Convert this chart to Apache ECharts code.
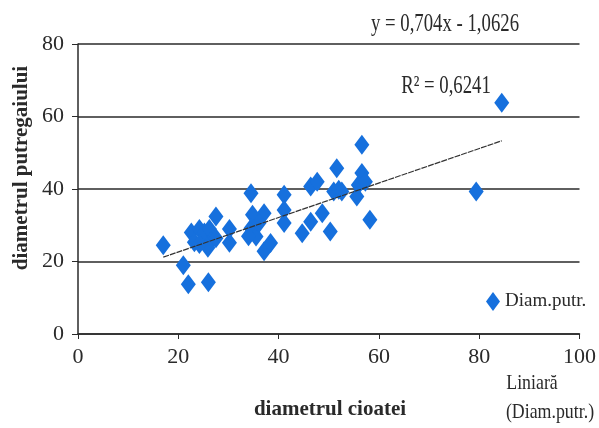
<!DOCTYPE html>
<html>
<head>
<meta charset="utf-8">
<script src="https://cdn.jsdelivr.net/npm/echarts@6/dist/echarts.min.js"></script>
<style>
html,body{margin:0;padding:0;background:#fff;}
#chart{width:599px;height:428px;}
</style>
</head>
<body>
<div id="chart"></div>
<script>
// diametrul cioatei (x) / diametrul putregaiului (y)
var diamCioata = [17, 21, 22, 26, 22.6, 23.2, 24.2, 25.2, 26.2, 26.5, 25.9, 27.5, 24.2, 27.5, 30.2, 30.2,
    34.5, 34.8, 37.1, 34.5, 35.5, 36.1, 37.1, 38.4, 34, 41.1, 41.1, 41.1, 46.4, 47.7, 51, 48.7,
    46.4, 44.7, 50.3, 56.6, 51.6, 56.6, 52, 52.6, 55.9, 55.6, 58.2, 57.3, 84.5, 79.4];
var diamPutr = [24.5, 19, 13.7, 14.3, 28, 25.3, 29, 28, 29, 25.5, 23.8, 26.4, 24.8, 32.4, 29, 25.2,
    38.8, 32.9, 33.3, 29.2, 26.9, 30.6, 22.8, 25.1, 27, 38.4, 34.2, 30.6, 40.7, 42, 39.3, 33.3,
    31, 27.8, 28.3, 52.2, 45.7, 44.4, 39.8, 39.3, 41.1, 37.9, 31.5, 42, 63.8, 39.3];
// trend line as drawn (start and end)
var trendX = [17, 84.5];
var trendY = [21.2, 53.3];
var xTicks = [0, 20, 40, 60, 80, 100];
var yTicks = [0, 20, 40, 60, 80];

var pts = diamCioata.map(function (x, i) { return [x, diamPutr[i]]; });
var trend = trendX.map(function (x, i) { return [x, trendY[i]]; });

var serif = 'Liberation Serif';
var ink = '#2a2a2a';
var blue = '#1670dd';

var chart = echarts.init(document.getElementById('chart'));
chart.setOption({
    animation: false,
    grid: { left: 78, right: 16, top: 44, bottom: 94 },
    legend: {
        left: 481, top: 287,
        data: ['Diam.putr.'],
        icon: 'diamond',
        itemWidth: 14, itemHeight: 19, itemGap: 6,
        textStyle: { fontFamily: serif, fontSize: 19, color: ink }
    },
    xAxis: {
        type: 'value', min: xTicks[0], max: xTicks[xTicks.length - 1], interval: 20,
        axisLine: { lineStyle: { color: ink, width: 1.5 } },
        axisTick: { show: true, length: 5, lineStyle: { color: ink } },
        splitLine: { show: false },
        axisLabel: { margin: 12, fontFamily: serif, fontSize: 22, color: ink }
    },
    yAxis: {
        type: 'value', min: yTicks[0], max: yTicks[yTicks.length - 1], interval: 20,
        axisLine: { show: true, lineStyle: { color: ink, width: 1.5 } },
        axisTick: { show: true, length: 6, lineStyle: { color: ink } },
        splitLine: { lineStyle: { color: ink, width: 1.5 } },
        axisLabel: { margin: 14, fontFamily: serif, fontSize: 22, color: ink }
    },
    series: [{
        name: 'Diam.putr.',
        type: 'scatter',
        symbol: 'diamond',
        symbolSize: [15, 20],
        itemStyle: { color: blue, opacity: 1 },
        data: pts,
        z: 3
    }, {
        name: 'Liniară',
        type: 'line',
        symbol: 'none',
        lineStyle: { color: '#333', width: 1.2, type: [6, 1] },
        data: trend,
        z: 4
    }],
    graphic: [{
        type: 'text', x: 445, y: 24, scaleX: 0.75,
        style: { text: 'y = 0,704x - 1,0626', x: 0, y: 0, align: 'center', verticalAlign: 'middle',
            fontFamily: serif, fontSize: 25, fill: ink }
    }, {
        type: 'text', x: 446, y: 86, scaleX: 0.75,
        style: { text: 'R² = 0,6241', x: 0, y: 0, align: 'center', verticalAlign: 'middle',
            fontFamily: serif, fontSize: 25, fill: ink }
    }, {
        type: 'text', x: 22, y: 168, rotation: Math.PI / 2,
        style: { text: 'diametrul putregaiului', x: 0, y: 0, align: 'center', verticalAlign: 'middle',
            fontFamily: serif, fontSize: 21, fontWeight: 'bold', fill: ink }
    }, {
        type: 'text', x: 330, y: 410,
        style: { text: 'diametrul cioatei', x: 0, y: 0, align: 'center', verticalAlign: 'middle',
            fontFamily: serif, fontSize: 21, fontWeight: 'bold', fill: ink }
    }, {
        type: 'text', x: 532, y: 383, scaleX: 0.85,
        style: { text: 'Liniară', x: 0, y: 0, align: 'center', verticalAlign: 'middle',
            fontFamily: serif, fontSize: 21, fill: ink }
    }, {
        type: 'text', x: 550, y: 412, scaleX: 0.85,
        style: { text: '(Diam.putr.)', x: 0, y: 0, align: 'center', verticalAlign: 'middle',
            fontFamily: serif, fontSize: 21, fill: ink }
    }]
});
</script>
</body>
</html>
